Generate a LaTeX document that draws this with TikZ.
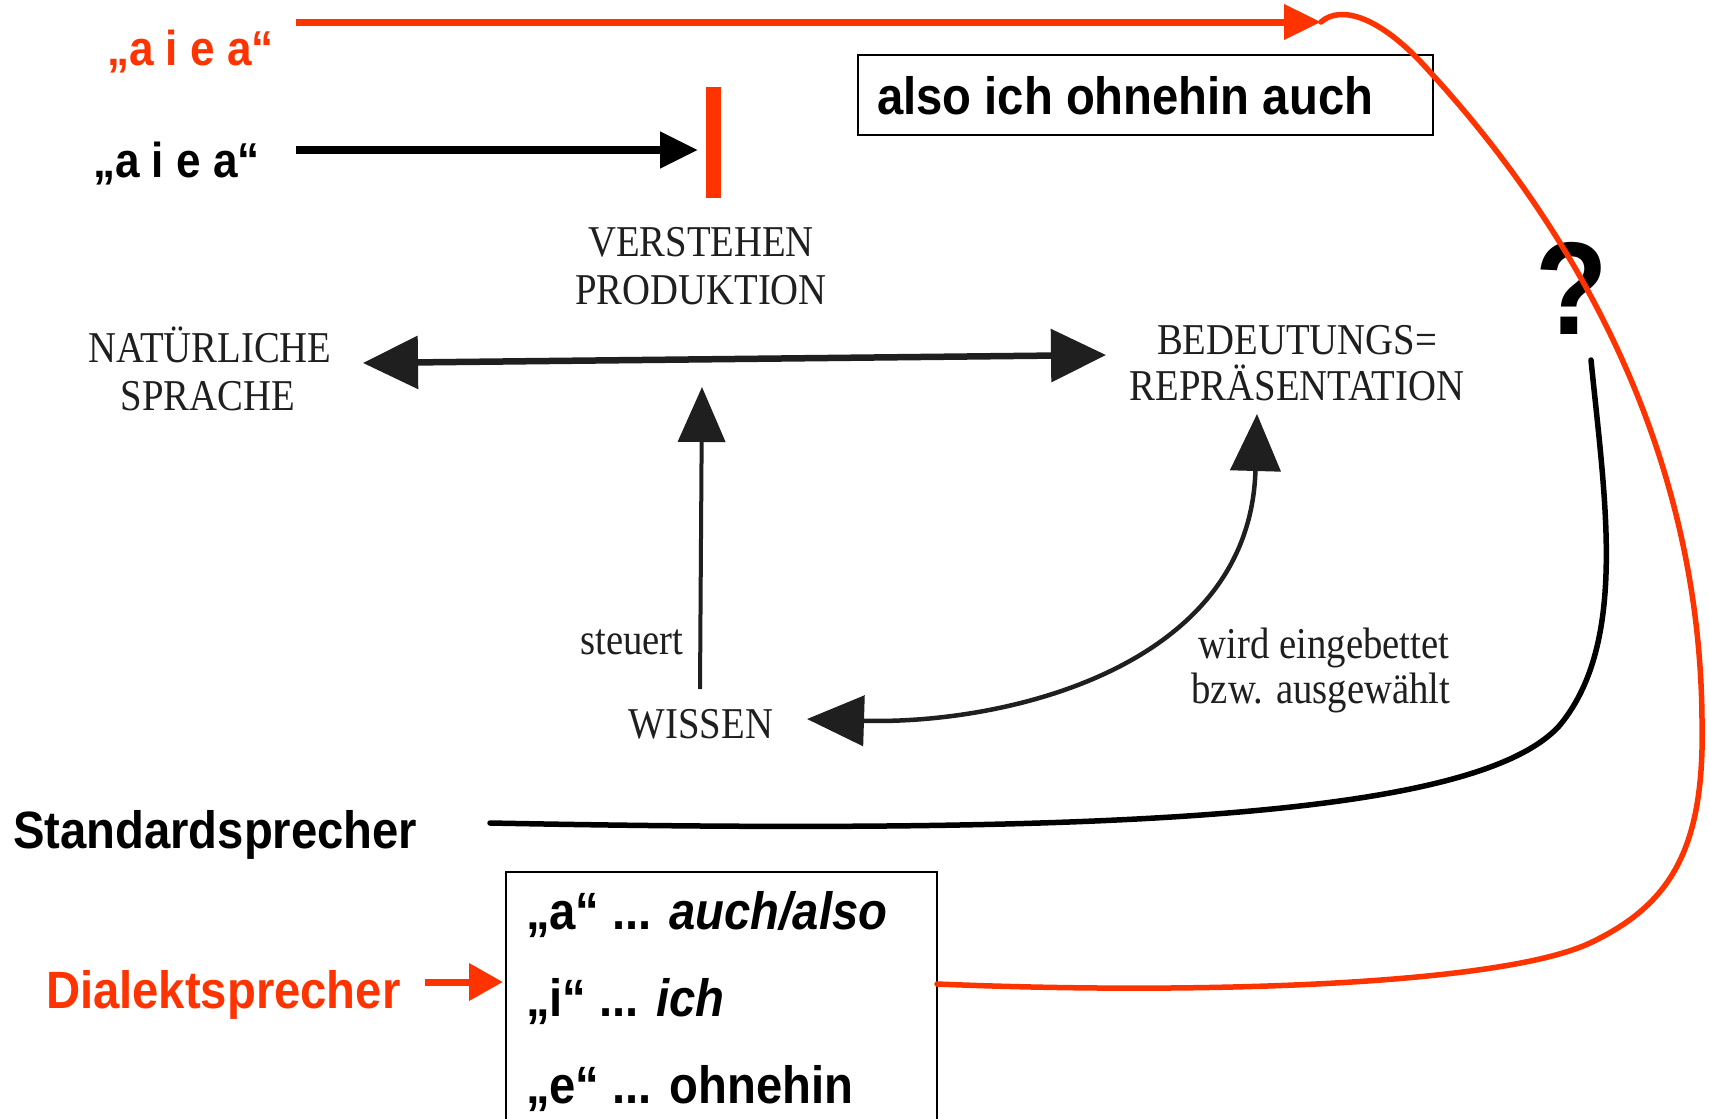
\documentclass[tikz,border=0pt]{standalone}
\usepackage{fontspec}
\setmainfont{Liberation Sans}
\newfontfamily\sansb{Liberation Sans}[FakeStretch=0.9]
\newfontfamily\scanf{Liberation Serif}[FakeStretch=0.88]
\usetikzlibrary{arrows.meta}
\definecolor{hred}{RGB}{255,51,0}
\colorlet{scanink}{black!88}
\begin{document}
\begin{tikzpicture}[x=1pt,y=-1pt,
  txt/.style={inner sep=0pt, outer sep=0pt},
  sansbig/.style={txt, font=\sansb\bfseries\fontsize{52.5}{60}\selectfont},
  aiea/.style={txt, font=\sansb\bfseries\fontsize{49}{56}\selectfont},
  scan/.style={txt, font=\scanf\fontsize{44}{50}\selectfont, text=scanink, anchor=base},
  box/.style={draw, line width=1.5pt, inner sep=0pt},
  redcurve/.style={draw=hred, line width=5.5pt, line cap=round},
  blkcurve/.style={draw=black, line width=5.5pt, line cap=round},
  scanline/.style={draw=scanink},
]
\clip (0,0) rectangle (1709,1119);
\fill[white] (0,0) rectangle (1709,1119);

% ---- top: input strings
\node[aiea, text=hred, anchor=base west] (raiea) at (107,65) {„a i e a“};
\node[aiea, anchor=base west] (baiea) at (93,177) {„a i e a“};
\coordinate (rs) at (296,22);
\coordinate (rt) at (1321,22);
\draw[hred, line width=7pt, -{Triangle[length=37pt,width=34pt]}] (rs) -- (rt);
\node[fill=hred, minimum width=15pt, minimum height=111pt, inner sep=0pt] (bar) at (713,142.5) {};
\coordinate (bs) at (296,150);
\coordinate (bt) at (698,150);
\draw[line width=8pt, -{Triangle[length=38pt,width=35pt]}] (bs) -- (bt);

% ---- top box
\node[box, minimum width=575pt, minimum height=80pt, anchor=north west] (tbox) at (857,54) {};
\node[sansbig, anchor=base west] (ttext) at (877,114) {also ich ohnehin auch};

% ---- question mark
\node[txt, font=\sansb\bfseries\fontsize{132}{140}\selectfont] (qm) at (1572,288) {?};

% ---- scanned diagram
\node[scan] (verst) at (701,256) {VERSTEHEN};
\node[scan] (prod) at (701,304) {PRODUKTION};
\begin{scope}
  \clip (89,300) rectangle (420,440);
  \node[scan] (nat) at (210,362) {NATÜRLICHE};
  \node[scan] (spr) at (208,410) {SPRACHE};
\end{scope}
\node[scan] (bed) at (1297,354) {BEDEUTUNGS=};
\node[scan] (rep) at (1297,400) {REPRÄSENTATION};
\node[scan] (steu) at (632,654) {steuert};
\node[scan] (wis) at (701,738) {WISSEN};
\node[scan] (wird) at (1324,658) {wird eingebettet};
\node[scan] (bzw) at (1321,703) {bzw. ausgewählt};

\coordinate (hl) at (363,363);
\coordinate (hr) at (1106,355);
\draw[scanline, line width=6.5pt, {Triangle[length=55pt,width=52pt]}-{Triangle[length=55pt,width=52pt]}] (hl) -- (hr);

\coordinate (vb) at (700,689);
\coordinate (vt) at (702,387);
\draw[scanline, line width=4pt, -{Triangle[length=55pt,width=47pt]}] (vb) -- (vt);

\coordinate (ct) at (1257,414);
\coordinate (cl) at (807,719);
\draw[scanline, line width=4.5pt, {Triangle[length=57pt,width=50pt]}-{Triangle[length=57pt,width=50pt]}]
  (ct) .. controls (1250,670) and (1000,725) .. (cl);

% ---- speakers
\node[sansbig, anchor=base west] (std) at (13,848) {Standardsprecher};
\node[sansbig, text=hred, anchor=base west] (dial) at (46,1008) {Dialektsprecher};

% ---- lower box
\node[box, minimum width=431pt, minimum height=270pt, anchor=north west] (lbox) at (505,871) {};
\node[sansbig, anchor=base west] (la) at (526,929) {„a“ ... \textit{auch/also}};
\node[sansbig, anchor=base west] (li) at (526,1016) {„i“ ... \textit{ich}};
\node[sansbig, anchor=base west] (le) at (526,1103) {„e“ ... ohnehin};

\coordinate (ds) at (425,982);
\coordinate (dt) at (503,982);
\draw[hred, line width=7pt, -{Triangle[length=34pt,width=36pt]}] (ds) -- (dt);

% ---- black curve: from below "?" to Standardsprecher
\coordinate (qs) at (1591,360);
\coordinate (se) at (490,823);
\draw[blkcurve] (qs) .. controls (1605,500) and (1628,642) .. (1560,725)
  .. controls (1478,818) and (1100,835) .. (se);

% ---- red curve: from arrow tip round to lower box
\coordinate (le2) at (937,984);
\draw[redcurve] (rt) .. controls (1340,5) and (1380,15) .. (1430,72)
  .. controls (1575,230) and (1700,450) .. (1702,720)
  .. controls (1705,850) and (1670,905) .. (1590,943)
  .. controls (1500,985) and (1200,995) .. (le2);
\end{tikzpicture}
\end{document}
